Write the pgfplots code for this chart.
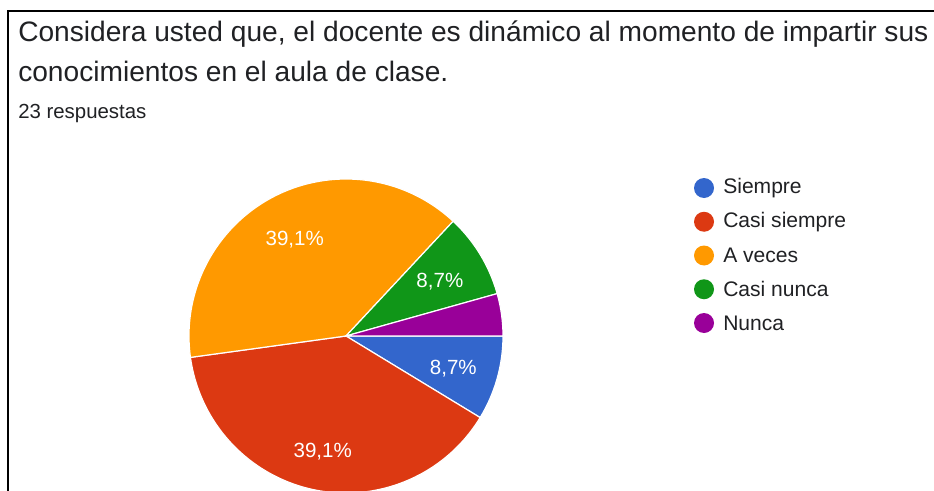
\documentclass[border=0pt]{standalone}
\usepackage{pgfplots}
\pgfplotsset{compat=1.18}
\usepackage{pgfplotstable}
\usepackage{fontspec}
\setmainfont{Liberation Sans}
\definecolor{cSi}{HTML}{3366CC}
\definecolor{cCs}{HTML}{DC3912}
\definecolor{cAv}{HTML}{FF9900}
\definecolor{cCn}{HTML}{109618}
\definecolor{cNu}{HTML}{990099}
\definecolor{txt}{HTML}{202124}
\pgfplotstableread[col sep=comma]{
label,count,color,show,lr
Siempre,2,cSi,1,0.71
Casi siempre,9,cCs,1,0.73
A veces,9,cAv,1,0.71
Casi nunca,2,cCn,1,0.70
Nunca,1,cNu,0,0.70
}\piedata
\begin{document}
\begin{tikzpicture}[x=0.75pt,y=0.75pt]
\useasboundingbox (0,0) rectangle (934,490);
\clip (0,0) rectangle (934,490);
\fill[white] (0,0) rectangle (934,490);
\draw[line width=1.5pt, black] (8,-2) -- (8,479) -- (940,479);
\node[anchor=base west, inner sep=0, text=txt, font=\fontsize{21.1}{24}\selectfont] at (18,448) {Considera usted que, el docente es dinámico al momento de impartir sus};
\node[anchor=base west, inner sep=0, text=txt, font=\fontsize{21.1}{24}\selectfont] at (18,408) {conocimientos en el aula de clase.};
\node[anchor=base west, inner sep=0, text=txt, font=\fontsize{15.3}{18}\selectfont] at (18,372) {23 respuestas};
\coordinate (pc) at (346,154);
\begin{axis}[at={(pc)}, anchor=center, hide axis, scale only axis,
  width=235.5pt, height=235.5pt, xmin=-1, xmax=1, ymin=-1, ymax=1, clip=false]
\pgfplotsextra{%
  \gdef\angstart{0}%
  \foreach \i in {0,...,4}{%
    \pgfplotstablegetelem{\i}{count}\of\piedata \let\cnt\pgfplotsretval
    \pgfplotstablegetelem{\i}{color}\of\piedata \let\col\pgfplotsretval
    \pgfplotstablegetelem{\i}{show}\of\piedata \let\shw\pgfplotsretval
    \pgfplotstablegetelem{\i}{lr}\of\piedata \let\lr\pgfplotsretval
    \pgfmathsetmacro\angend{\angstart-\cnt/23*360}%
    \pgfmathsetmacro\angmid{(\angstart+\angend)/2}%
    \pgfmathsetmacro\pct{\cnt/23*100}%
    \fill[\col, draw=white, line width=0.9pt] (axis cs:0,0) -- (axis cs:{cos(\angstart)},{sin(\angstart)}) arc[start angle=\angstart, end angle=\angend, radius=117.75pt] -- cycle;
    \ifnum\shw=1
      \node[text=white, inner sep=0, yshift=-2.25pt, font=\fontsize{15.4}{18}\selectfont] at (axis cs:{\lr*cos(\angmid)},{\lr*sin(\angmid)}) {\pgfmathprintnumber[fixed, precision=1, fixed zerofill, use comma, assume math mode=true]{\pct}\%};
    \fi
    \xdef\angstart{\angend}%
  }%
}
\end{axis}
\foreach \lab/\col [count=\k from 0] in {Siempre/cSi, Casi siempre/cCs, A veces/cAv, Casi nunca/cCn, Nunca/cNu}{
  \fill[\col] (704,302-33.75*\k) circle[radius=10];
  \node[anchor=west, inner sep=0, text=txt, font=\fontsize{15.8}{18}\selectfont] at (723,302-33.75*\k) {\lab};
}
\end{tikzpicture}
\end{document}
